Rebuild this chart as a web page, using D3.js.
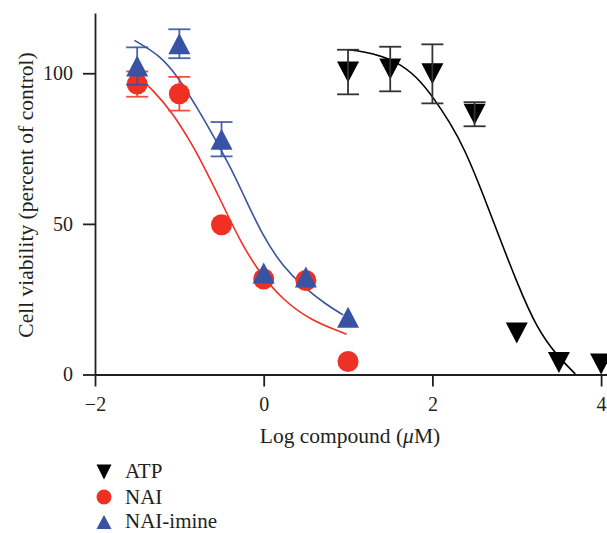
<!DOCTYPE html>
<html><head><meta charset="utf-8">
<script src="https://cdn.jsdelivr.net/npm/d3@7"></script>
<style>body{margin:0;background:#fff}svg{display:block}text{font-family:"Liberation Serif","DejaVu Serif",serif;fill:#231f20}</style>
</head><body><svg id="c" width="607" height="533"></svg>
<script>
// ---- data ----
const xTicks = [-2, 0, 2, 4];
const yTicks = [0, 50, 100];
const atpX = [1, 1.5, 2, 2.5, 3, 3.5, 4];
const atpY = [100.4, 101.4, 99.8, 86.4, 13.8, 4.0, 3.5];
const atpErr = [7.4, 7.4, 9.8, 4.0, 0, 0, 0];
const naiX = [-1.5, -1, -0.5, 0, 0.5, 1];
const naiY = [96.4, 93.2, 49.7, 31.7, 31.2, 4.3];
const naiErr = [4.2, 5.6, 0, 0, 0, 0];
const imX = [-1.5, -1, -0.5, 0, 0.5, 1];
const imY = [102.4, 109.8, 78.1, 33.7, 32.4, 19.0];
const imErr = [6.2, 4.8, 5.7, 0, 0, 0];
// fitted curves, points
const atpCurveX = [1.0, 1.3, 1.576, 1.814, 2.011, 2.209, 2.387, 2.604, 2.803, 3.001, 3.239, 3.476, 3.694];
const atpCurveY = [107.8, 106.7, 103.9, 98.9, 92.0, 83.6, 74.6, 59.6, 44.9, 30.6, 15.2, 6.3, 0.2];
const naiCurveX = [-1.532, -1.315, -1.077, -0.859, -0.76, -0.641, -0.523, -0.285, -0.048, 0.229, 0.546, 0.982];
const naiCurveY = [100.1, 94.5, 86.8, 76.8, 71.8, 65.2, 58.6, 44.5, 33.6, 24.8, 18.1, 13.4];
const imCurveX = [-1.532, -1.235, -1.017, -0.799, -0.602, -0.502, -0.344, -0.246, -0.008, 0.229, 0.467, 0.745, 0.942];
const imCurveY = [110.9, 106.1, 98.9, 89.0, 79.5, 74.3, 66.0, 60.0, 45.8, 35.8, 29.2, 23.1, 19.8];
const seriesNames = ["ATP", "NAI", "NAI-imine"];
const seriesColors = ["#000000", "#ee3124", "#3953a4"];

const svg = d3.select("#c");
const x = d3.scaleLinear().domain([-2, 4.07]).range([95, 607]);
const y = d3.scaleLinear().domain([0, 120]).range([374.5, 13]);

// axes
const gy = svg.append("g").attr("transform", "translate(95,0)")
  .call(d3.axisLeft(y).tickValues(yTicks).tickSize(12).tickSizeOuter(0).tickPadding(10).tickFormat(d3.format("d")));
const gx = svg.append("g").attr("transform", "translate(0,374.5)")
  .call(d3.axisBottom(x).tickValues(xTicks).tickSize(12).tickSizeOuter(0).tickPadding(10).tickFormat(d => d < 0 ? "\u2212" + Math.abs(d) : d));
[gy, gx].forEach(g => {
  g.selectAll("path.domain").attr("stroke", "#231f20").attr("stroke-width", 1.8);
  g.selectAll(".tick line").attr("stroke", "#231f20").attr("stroke-width", 1.8);
  g.selectAll("text").style("font-family", '"Liberation Serif",serif').style("font-size", "20px").attr("fill", "#231f20");
});

svg.append("text").attr("transform", "translate(33,195) rotate(-90)").attr("text-anchor", "middle")
  .style("font-size", "21.5px").text("Cell viability (percent of control)");
const xt = svg.append("text").attr("x", 350).attr("y", 443).attr("text-anchor", "middle").style("font-size", "21.5px");
xt.append("tspan").text("Log compound (");
xt.append("tspan").style("font-style", "italic").text("\u03bc");
xt.append("tspan").text("M)");

// curves
const line = d3.line().x(d => x(d[0])).y(d => y(d[1])).curve(d3.curveBasis);
const curves = [[atpCurveX, atpCurveY], [naiCurveX, naiCurveY], [imCurveX, imCurveY]];
curves.forEach((c, i) => {
  svg.append("path").datum(c[0].map((v, k) => [v, c[1][k]])).attr("d", line)
    .attr("fill", "none").attr("stroke", seriesColors[i]).attr("stroke-width", 1.6);
});

// markers
function tri(cx, cy, w, h, down) {
  return down
    ? `M${cx - w / 2},${cy - h / 2}L${cx + w / 2},${cy - h / 2}L${cx},${cy + h / 2}Z`
    : `M${cx - w / 2},${cy + h / 2}L${cx + w / 2},${cy + h / 2}L${cx},${cy - h / 2}Z`;
}
function errBars(xs, ys, es, color, op) {
  xs.forEach((v, k) => {
    if (!es[k]) return;
    const cx = x(v), y1 = y(ys[k] + es[k]), y2 = y(ys[k] - es[k]);
    const g = svg.append("g").attr("stroke", color).attr("stroke-width", 1.8).attr("stroke-opacity", op);
    g.append("line").attr("x1", cx).attr("x2", cx).attr("y1", y1).attr("y2", y2);
    g.append("line").attr("x1", cx - 11).attr("x2", cx + 11).attr("y1", y1).attr("y2", y1);
    g.append("line").attr("x1", cx - 11).attr("x2", cx + 11).attr("y1", y2).attr("y2", y2);
  });
}
// ATP
atpX.forEach((v, k) => svg.append("path").attr("d", tri(x(v), y(atpY[k]), 22, 21, true)).attr("fill", seriesColors[0]));
errBars(atpX, atpY, atpErr, "#333", 1);
// NAI
naiX.forEach((v, k) => svg.append("circle").attr("cx", x(v)).attr("cy", y(naiY[k])).attr("r", 10.5).attr("fill", seriesColors[1]));
errBars(naiX, naiY, naiErr, seriesColors[1], 0.85);
// NAI-imine
imX.forEach((v, k) => svg.append("path").attr("d", tri(x(v), y(imY[k]), 22, 21, false)).attr("fill", seriesColors[2]));
errBars(imX, imY, imErr, seriesColors[2], 0.9);

// legend
const legY = [472, 497, 522];
const legBase = [478, 503.5, 527.5];
seriesNames.forEach((n, i) => {
  const cy = legY[i];
  if (i === 0) svg.append("path").attr("d", tri(104, cy, 15, 15, true)).attr("fill", seriesColors[0]);
  else if (i === 1) svg.append("circle").attr("cx", 104).attr("cy", cy).attr("r", 7.5).attr("fill", seriesColors[1]);
  else svg.append("path").attr("d", tri(104, cy, 15, 14, false)).attr("fill", seriesColors[2]);
  svg.append("text").attr("x", 125).attr("y", legBase[i]).style("font-size", "21px").text(n);
});
</script></body></html>
